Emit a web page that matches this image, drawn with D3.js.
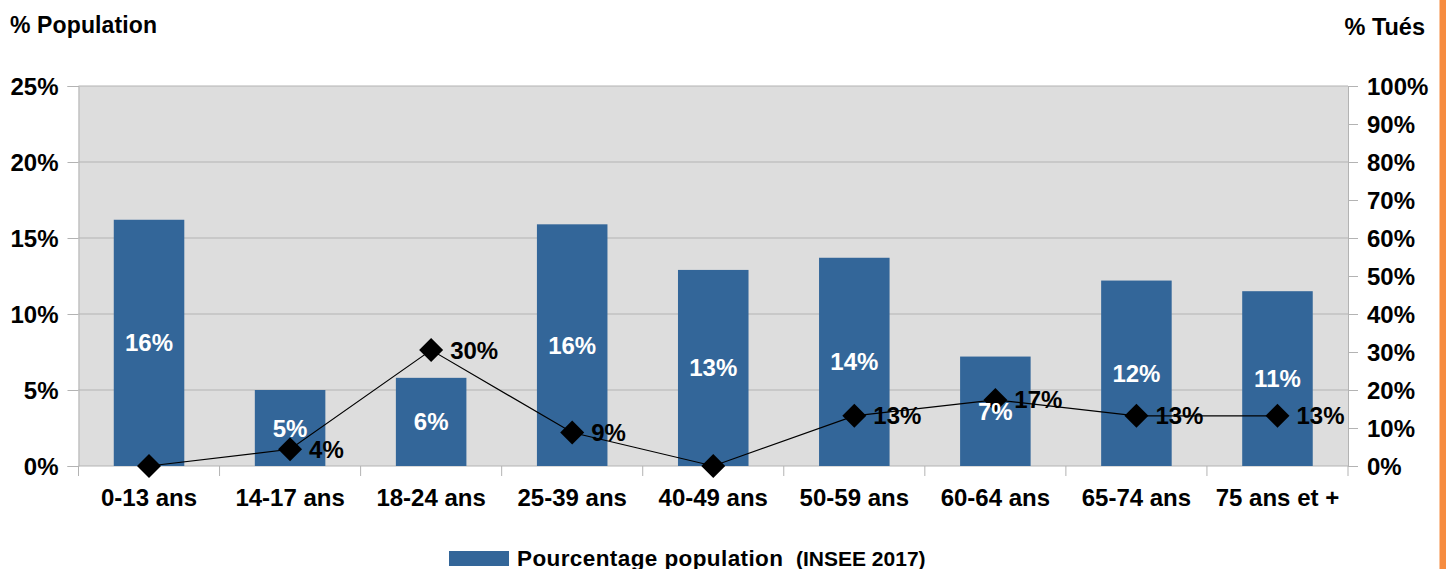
<!DOCTYPE html>
<html><head><meta charset="utf-8">
<script src="https://cdn.jsdelivr.net/npm/d3@7"></script>
<style>body{margin:0;background:#fff;}svg{display:block;font-family:"Liberation Sans",Arial,sans-serif;font-weight:bold;}</style>
</head><body>
<svg id="c" width="1446" height="569"></svg>
<script>
const categories = ["0-13 ans","14-17 ans","18-24 ans","25-39 ans","40-49 ans","50-59 ans","60-64 ans","65-74 ans","75 ans et +"];
const population = [16.2, 5.0, 5.8, 15.9, 12.9, 13.7, 7.2, 12.2, 11.5];
const populationLabels = ["16%","5%","6%","16%","13%","14%","7%","12%","11%"];
const tues = [0, 4.4, 30.5, 8.8, 0, 13.2, 17.4, 13.2, 13.2];
const tuesLabels = ["","4%","30%","9%","","13%","17%","13%","13%"];
const leftTicks = [0,5,10,15,20,25];
const rightTicks = [0,10,20,30,40,50,60,70,80,90,100];

const svg = d3.select("#c");
const FONT = "Liberation Sans, Arial, sans-serif";
const L=78.5, R=1348, T=86, B=466;
const x = d3.scaleBand().domain(categories).range([L,R]).paddingInner(0.5).paddingOuter(0.25);
const yL = d3.scaleLinear().domain([0,25]).range([B,T]);
const yR = d3.scaleLinear().domain([0,100]).range([B,T]);
const cx = i => x(categories[i]) + x.bandwidth()/2;

svg.append("rect").attr("x",L).attr("y",T).attr("width",R-L).attr("height",B-T).attr("fill","#dddddd");
svg.append("g").selectAll("line").data(leftTicks.filter(d=>d>0)).join("line")
  .attr("x1",L).attr("x2",R).attr("y1",d=>yL(d)).attr("y2",d=>yL(d)).attr("stroke","#b3b3b3").attr("stroke-width",1);

// left axis
const gl = svg.append("g").attr("transform",`translate(${L},0)`)
  .call(d3.axisLeft(yL).tickValues(leftTicks).tickFormat(d=>d+"%").tickSize(11).tickPadding(9));
gl.select(".domain").attr("stroke","#b3b3b3");
gl.selectAll(".tick line").attr("stroke","#b3b3b3");
gl.selectAll("text").attr("font-size",24).attr("font-weight","bold").attr("fill","#000").attr("font-family",FONT).attr("dy","0.35em");

// right axis
const gr = svg.append("g").attr("transform",`translate(${R},0)`)
  .call(d3.axisRight(yR).tickValues(rightTicks).tickFormat(d=>d+"%").tickSize(10).tickPadding(9));
gr.select(".domain").attr("stroke","#b3b3b3");
gr.selectAll(".tick line").attr("stroke","#b3b3b3");
gr.selectAll("text").attr("font-size",24).attr("font-weight","bold").attr("fill","#000").attr("font-family",FONT).attr("dy","0.35em");

// bottom axis
const bounds = d3.range(categories.length+1).map(i=>L+i*(R-L)/categories.length);
svg.append("line").attr("x1",L).attr("x2",R).attr("y1",B).attr("y2",B).attr("stroke","#b3b3b3");
svg.append("g").selectAll("line").data(bounds).join("line")
  .attr("x1",d=>d).attr("x2",d=>d).attr("y1",B).attr("y2",B+10).attr("stroke","#b3b3b3");
svg.append("g").selectAll("text").data(categories).join("text")
  .attr("x",(d,i)=>cx(i)).attr("y",506).attr("text-anchor","middle")
  .attr("font-size",24).text(d=>d);

// bars
svg.append("g").selectAll("rect").data(population).join("rect")
  .attr("x",(d,i)=>x(categories[i])).attr("width",x.bandwidth())
  .attr("y",d=>yL(d)).attr("height",d=>B-yL(d)).attr("fill","#336699");

// line + markers
const line = d3.line().x((d,i)=>cx(i)).y(d=>yR(d));
svg.append("path").datum(tues).attr("d",line).attr("fill","none").attr("stroke","#000").attr("stroke-width",1.2);
const diamond = {draw(ctx,size){const r=Math.sqrt(size)/2; ctx.moveTo(0,-r); ctx.lineTo(r,0); ctx.lineTo(0,r); ctx.lineTo(-r,0); ctx.closePath();}};
svg.append("g").selectAll("path").data(tues).join("path")
  .attr("d",d3.symbol(diamond, 24*24)())
  .attr("transform",(d,i)=>`translate(${cx(i)},${yR(d)})`)
  .attr("fill","#000");
svg.append("g").selectAll("text").data(tues).join("text")
  .attr("x",(d,i)=>cx(i)+19).attr("y",d=>yR(d)+8.5)
  .attr("font-size",24).attr("fill","#000").text((d,i)=>tuesLabels[i]);

// bar labels
svg.append("g").selectAll("text").data(population).join("text")
  .attr("x",(d,i)=>cx(i)).attr("y",d=>(yL(d)+B)/2+8.5)
  .attr("text-anchor","middle").attr("font-size",24).attr("fill","#fff").text((d,i)=>populationLabels[i]);

// axis titles
svg.append("text").attr("x",10).attr("y",33).attr("font-size",23).attr("textLength",147).text("% Population");
svg.append("text").attr("x",1425).attr("y",35).attr("text-anchor","end").attr("font-size",23.5).text("% Tués");

// legend
svg.append("rect").attr("x",449).attr("y",551).attr("width",60).attr("height",15).attr("fill","#336699");
svg.append("text").attr("x",517).attr("y",566).attr("font-size",22.5).attr("textLength",266).text("Pourcentage population");
svg.append("text").attr("x",796).attr("y",566).attr("font-size",21).text("(INSEE 2017)");

// orange edge
svg.append("rect").attr("x",1439.5).attr("y",0).attr("width",6.5).attr("height",569).attr("fill","#f68c40");
</script>
</body></html>
